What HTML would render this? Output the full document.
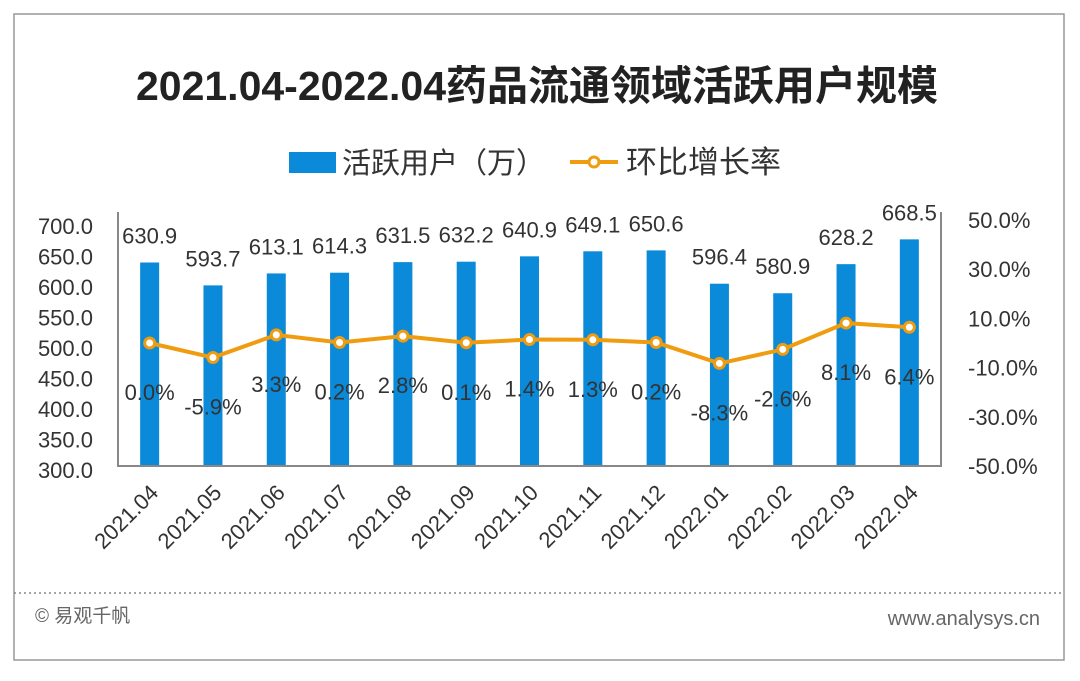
<!DOCTYPE html>
<html><head><meta charset="utf-8"><style>
body{margin:0;background:#fff;}
svg text{font-family:"Liberation Sans","Noto Sans CJK SC",sans-serif;fill:#333;}
</style></head><body>
<svg width="1080" height="676" viewBox="0 0 1080 676" id="chart">
<rect x="14" y="14" width="1050" height="646" fill="#fff" stroke="#999" stroke-width="1.5"/>
<text x="537" y="100" text-anchor="middle" font-size="41" font-weight="bold" style="fill:#222">2021.04-2022.04药品流通领域活跃用户规模</text>
<g>
<rect x="289" y="152" width="47" height="21" fill="#0a8ad8"/>
<text x="342" y="173" font-size="29">活跃用户（万）</text>
<line x1="570" y1="162" x2="618" y2="162" stroke="#f09c10" stroke-width="4"/>
<circle cx="594" cy="162" r="5" fill="#fff" stroke="#f09c10" stroke-width="3"/>
<text x="626" y="173" font-size="31">环比增长率</text>
</g>
<g id="plot"></g>
<line x1="14" y1="593" x2="1064" y2="593" stroke="#888" stroke-width="1.5" stroke-dasharray="2,3"/>
<text x="35" y="622" font-size="19" style="fill:#666">© 易观千帆</text>
<text x="1040" y="625" text-anchor="end" font-size="20" style="fill:#666">www.analysys.cn</text>
</svg>
<script>
const categories=["2021.04","2021.05","2021.06","2021.07","2021.08","2021.09","2021.10","2021.11","2021.12","2022.01","2022.02","2022.03","2022.04"];
const users=[630.9,593.7,613.1,614.3,631.5,632.2,640.9,649.1,650.6,596.4,580.9,628.2,668.5];
const growth=[0.0,-5.9,3.3,0.2,2.8,0.1,1.4,1.3,0.2,-8.3,-2.6,8.1,6.4];
const leftTicks=[700,650,600,550,500,450,400,350,300];
const rightTicks=[50,30,10,-10,-30,-50];

const NS="http://www.w3.org/2000/svg";
const g=document.getElementById('plot');
const X0=118,X1=941,YT=220,YB=466;
const band=(X1-X0)/categories.length;
const xc=i=>X0+band*(i+0.5);
const yL=v=>YB-(v-300)/400*(YB-YT);
const yR=v=>YB-(v+50)/100*(YB-YT);
function mk(tag,attrs,txt){const e=document.createElementNS(NS,tag);for(const k in attrs)e.setAttribute(k,attrs[k]);if(txt!==undefined)e.textContent=txt;g.appendChild(e);return e;}

leftTicks.forEach(v=>{const e=mk('text',{x:93,y:226+(700-v)/400*244+8,'text-anchor':'end','font-size':22},v.toFixed(1));

});
rightTicks.forEach(v=>{const e=mk('text',{x:968,y:yR(v)+8,'font-size':22},v.toFixed(1)+'%');

});

users.forEach((v,i)=>{const b=mk('rect',{x:xc(i)-9.5,y:yL(v),width:19,height:YB-yL(v),fill:'#0a8ad8'});


const t=mk('text',{x:xc(i),y:yL(v)-19,'text-anchor':'middle','font-size':22},v.toFixed(1));

});

let ax=mk('polyline',{points:`${X0},${YT-8} ${X0},${YB} ${X1},${YB} ${X1},${YT-8}`,fill:'none',stroke:'#888','stroke-width':2});



const pts=growth.map((v,i)=>xc(i)+','+yR(v)).join(' ');
const ln=mk('polyline',{points:pts,fill:'none',stroke:'#f09c10','stroke-width':4});


growth.forEach((v,i)=>{const c=mk('circle',{cx:xc(i),cy:yR(v),r:5,fill:'#fff',stroke:'#f09c10','stroke-width':3});


const t=mk('text',{x:xc(i),y:yR(v)+57,'text-anchor':'middle','font-size':22},v.toFixed(1)+'%');

});

categories.forEach((c,i)=>{const x=xc(i)+10,y=494;
const t=mk('text',{x:x,y:y,'text-anchor':'end','font-size':22,transform:`rotate(-45 ${x} ${y})`},c);

});
</script>
</body></html>
